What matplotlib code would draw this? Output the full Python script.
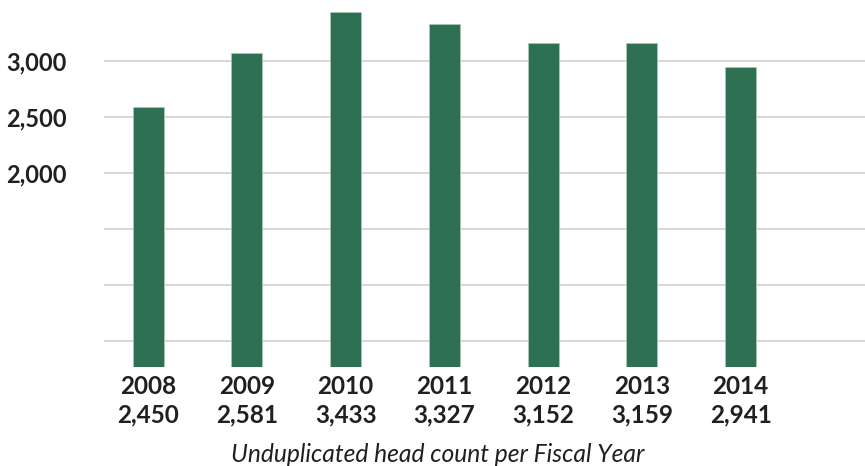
import matplotlib
matplotlib.use("Agg")
import matplotlib.pyplot as plt

years = ["2008", "2009", "2010", "2011", "2012", "2013", "2014"]
count_labels = ["2,450", "2,581", "3,433", "3,327", "3,152", "3,159", "2,941"]
# bar heights as drawn in the chart (first two bars don't match their labels)
bar_values = [2583, 3068, 3435, 3329, 3155, 3160, 2941]
grid_ticks = [500, 1000, 1500, 2000, 2500, 3000]
grid_labels = ["", "", "", "2,000", "2,500", "3,000"]

plt.rcParams['font.family'] = ['Lato', 'DejaVu Sans']
text_color = "#231f20"

fig = plt.figure(figsize=(8.65, 4.66), dpi=100)
ax = fig.add_axes([104 / 865, 1 - 367 / 466, 1 - 104 / 865, 367 / 466])

xs = list(range(len(years)))
ax.bar(xs, bar_values, width=0.314, color="#2e7152", edgecolor="#a9c6b6", linewidth=0.6, zorder=3)

ax.set_xlim(-0.446, 7.26)
ax.set_ylim(272, 3540)
ax.set_yticks(grid_ticks)
ax.set_yticklabels(grid_labels, fontsize=17, fontweight="bold", color=text_color)
ax.yaxis.grid(True, color="#d9d9d9", linewidth=1.5, zorder=0)
ax.set_axisbelow(True)

ax.set_xticks(xs)
ax.set_xticklabels([y + "\n" + c for y, c in zip(years, count_labels)],
                   fontsize=17.5, fontweight="bold", color=text_color, linespacing=1.25)

ax.tick_params(axis="both", length=0)
ax.tick_params(axis="y", pad=27)
ax.tick_params(axis="x", pad=6)
for s in ax.spines.values():
    s.set_visible(False)

fig.text(437.5 / 865, 1 - 454 / 466, "Unduplicated head count per Fiscal Year",
         fontsize=17.7, style="italic", color=text_color, ha="center", va="center")

fig.savefig("out.png", dpi=100)
